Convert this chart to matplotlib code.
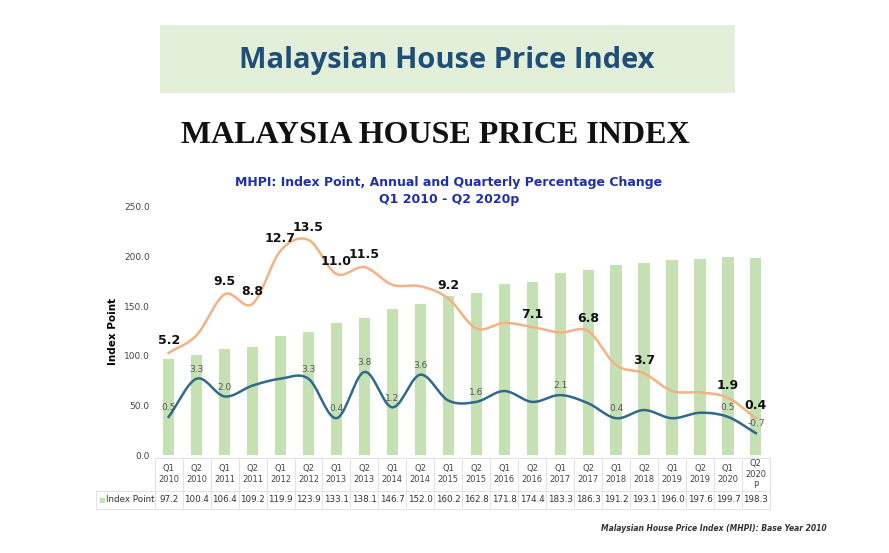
import numpy as np
import matplotlib.pyplot as plt
from matplotlib.patches import Rectangle

quarters = ["Q1\n2010", "Q2\n2010", "Q1\n2011", "Q2\n2011", "Q1\n2012", "Q2\n2012",
            "Q1\n2013", "Q2\n2013", "Q1\n2014", "Q2\n2014", "Q1\n2015", "Q2\n2015",
            "Q1\n2016", "Q2\n2016", "Q1\n2017", "Q2\n2017", "Q1\n2018", "Q2\n2018",
            "Q1\n2019", "Q2\n2019", "Q1\n2020", "Q2\n2020\nP"]
index_point = [97.2, 100.4, 106.4, 109.2, 119.9, 123.9, 133.1, 138.1, 146.7, 152.0, 160.2,
               162.8, 171.8, 174.4, 183.3, 186.3, 191.2, 193.1, 196.0, 197.6, 199.7, 198.3]
# annual % change (only some points carry a label on the chart)
annual = [5.2, 6.5, 9.5, 8.8, 12.7, 13.5, 11.0, 11.5, 10.2, 10.1, 9.2, 7.0,
          7.4, 7.1, 6.7, 6.8, 4.3, 3.7, 2.4, 2.3, 1.9, 0.4]
annual_shown = [0, 2, 3, 4, 5, 6, 7, 10, 13, 15, 17, 20, 21]
quarterly = [0.5, 3.3, 2.0, 2.8, 3.3, 3.3, 0.4, 3.8, 1.2, 3.6, 1.7, 1.6,
             2.4, 1.6, 2.1, 1.5, 0.4, 1.0, 0.4, 0.8, 0.5, -0.7]
quarterly_shown = [0, 1, 2, 5, 6, 7, 8, 9, 11, 14, 16, 20, 21]


def smooth(y, n=20):
    # Catmull-Rom curve through the points, for the smoothed-line look
    y = np.asarray(y, float)
    p = np.concatenate([[2 * y[0] - y[1]], y, [2 * y[-1] - y[-2]]])
    xs, ys = [], []
    for i in range(len(y) - 1):
        t = np.linspace(0, 1, n, endpoint=False)
        p0, p1, p2, p3 = p[i], p[i + 1], p[i + 2], p[i + 3]
        ys.append(0.5 * (2 * p1 + (-p0 + p2) * t + (2 * p0 - 5 * p1 + 4 * p2 - p3) * t**2
                         + (-p0 + 3 * p1 - 3 * p2 + p3) * t**3))
        xs.append(i + t)
    xs.append([len(y) - 1]); ys.append([y[-1]])
    return np.concatenate(xs), np.concatenate(ys)


fig = plt.figure(figsize=(8.89, 5.53), dpi=100)
fig.patch.set_facecolor("white")

# header box
fig.patches.append(Rectangle((0.18, 0.832), 0.647, 0.123, transform=fig.transFigure,
                             facecolor="#e2efd9", edgecolor="none"))
fig.text(0.503, 0.891, "Malaysian House Price Index", ha="center", va="center",
         fontsize=21, fontweight="bold", color="#1f4e79", family="Open Sans")
fig.text(0.49, 0.755, "MALAYSIA HOUSE PRICE INDEX", ha="center", va="center",
         fontsize=23, fontweight="bold", color="#111111", family="Liberation Serif")
fig.text(0.505, 0.655, "MHPI: Index Point, Annual and Quarterly Percentage Change\nQ1 2010 - Q2 2020p",
         ha="center", va="center", fontsize=9, fontweight="bold", color="#1f2fa8",
         linespacing=1.35)

ax = fig.add_axes([0.174, 0.177, 0.692, 0.449])
x = np.arange(len(quarters))
ax.bar(x, index_point, width=0.4, color="#c5e0b3")
ax.set_xlim(-0.5, len(quarters) - 0.5)
ax.set_ylim(0, 250)
ax.set_yticks(np.arange(0, 251, 50))
ax.set_yticklabels([f"{v:.1f}" for v in np.arange(0, 251, 50)], fontsize=6.5, color="#444444")
ax.set_xticks([])
ax.set_ylabel("Index Point", fontsize=7.5, fontweight="bold")
for s in ax.spines.values():
    s.set_visible(False)
ax.tick_params(axis="y", length=0)

ax2 = ax.twinx()
ax2.set_ylim(-2.31, 15.93)
ax2.axis("off")
sx, sy = smooth(annual)
ax2.plot(sx, sy, color="#f4b183", lw=1.8)
sx, sy = smooth(quarterly)
ax2.plot(sx, sy, color="#2f6a8c", lw=1.8)
for i in annual_shown:
    ax2.text(x[i], annual[i] + 0.45, f"{annual[i]:.1f}", ha="center", va="bottom",
             fontsize=9, fontweight="bold", color="#111111")
for i in quarterly_shown:
    ax2.text(x[i], quarterly[i] + 0.35, f"{quarterly[i]:.1f}", ha="center", va="bottom",
             fontsize=6.5, color="#555555")

# data table under the axis
trans = ax.get_xaxis_transform()
row1, row2, row3 = -0.01, -0.145, -0.215
for i, q in enumerate(quarters):
    ax.text(i, (row1 + row2) / 2, q, transform=trans, ha="center", va="center",
            fontsize=6, color="#444444", linespacing=1.3)
    ax.text(i, (row2 + row3) / 2, f"{index_point[i]:.1f}", transform=trans, ha="center",
            va="center", fontsize=6.3, color="#333333")
for i in range(len(quarters) + 1):
    ax.plot([i - 0.5] * 2, [row1, row3], transform=trans, color="#dddddd", lw=0.6, clip_on=False)
for yy in (row1, row2, row3):
    ax.plot([-0.5, len(quarters) - 0.5], [yy, yy], transform=trans, color="#dddddd", lw=0.6,
            clip_on=False)
for yy in (row2, row3):
    ax.plot([-2.6, -0.5], [yy, yy], transform=trans, color="#dddddd", lw=0.6, clip_on=False)
ax.plot([-2.6, -2.6], [row2, row3], transform=trans, color="#dddddd", lw=0.6, clip_on=False)
ax.text(-2.5, (row2 + row3) / 2, "\u25a0", transform=trans, ha="left", va="center",
        fontsize=5, color="#c5e0b3")
ax.text(-2.25, (row2 + row3) / 2, "Index Point", transform=trans, ha="left", va="center",
        fontsize=6.3, color="#333333")

fig.text(0.93, 0.045, "Malaysian House Price Index (MHPI): Base Year 2010", ha="right",
         va="center", fontsize=5.5, fontstyle="italic", fontweight="bold", color="#333333")

fig.savefig("out.png", dpi=100)
